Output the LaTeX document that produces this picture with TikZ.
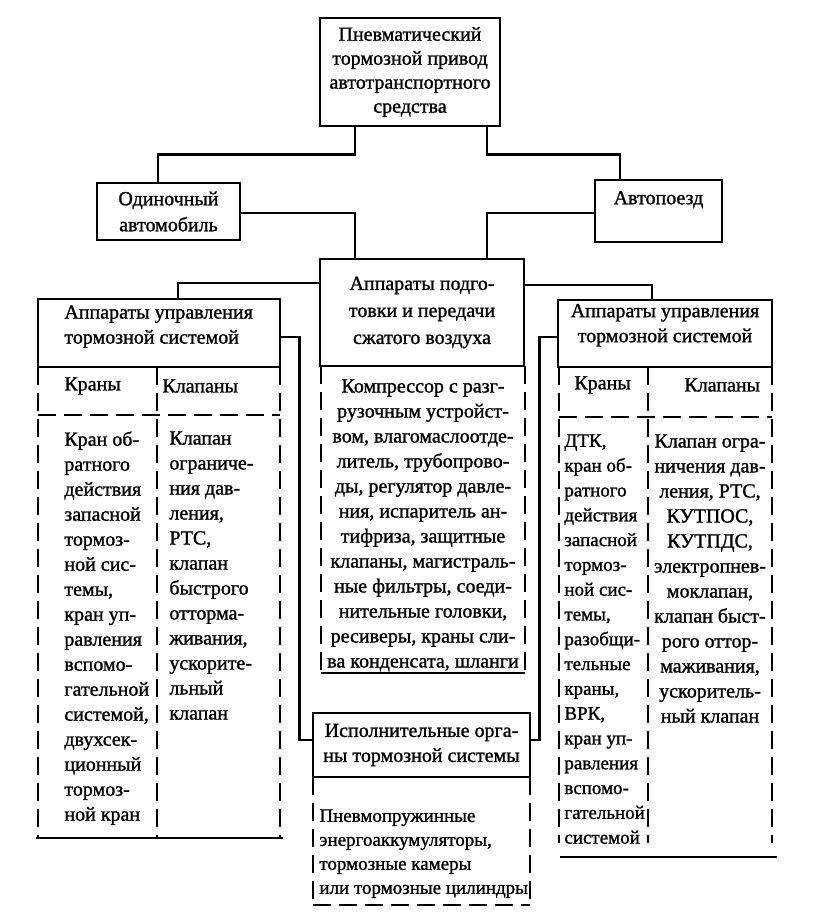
\documentclass[tikz,border=0pt]{standalone}
\usepackage{fontspec}
\setmainfont{Liberation Serif}[BoldFont={Liberation Serif}, BoldFeatures={FakeBold=1.2}]

\begin{document}
\begin{tikzpicture}[x=1pt, y=-1pt, line width=2.8pt,
    box/.style={draw, inner sep=0pt, font=\fontsize{20}{25}\selectfont\bfseries},
    txt/.style={inner sep=0pt, font=\fontsize{20}{25}\selectfont\bfseries},
    cut/.style={dash pattern=on 18pt off 8pt}]
    \useasboundingbox (0,0) rectangle (816,913);

    % Top box
    \node[box, align=center, minimum width=180pt, minimum height=108pt, font=\fontsize{20}{24}\selectfont\bfseries] (drive) at (410,72)
    {Пневматический\\тормозной привод\\автотранспортного\\средства};

    % Vehicle type
    \node[box, align=center, minimum width=143pt, minimum height=57pt, font=\fontsize{20}{26}\selectfont\bfseries] (single) at (168.5,211.5) {Одиночный\\ автомобиль};
    \node[box, minimum width=127pt, minimum height=62pt] (train) at (658.5,211) {};
    \node[txt] (traintxt) at ([yshift=-21pt]train.north) {Автопоезд};

    % Air preparation
    \node[box, align=center, minimum width=204pt, minimum height=107pt, font=\fontsize{20}{27}\selectfont\bfseries] (prep) at (422,312.5)
    {Аппараты подго-\\товки и передачи\\сжатого воздуха};

    % Control apparatus, left and right
    \node[box, minimum width=242pt, minimum height=68pt] (ctrlL) at (159,333) {};
    \node[txt, align=left, anchor=north west] (ctrlLtxt) at (63,304) {Аппараты управления\\тормозной системой};
    \node[box, minimum width=214pt, minimum height=67pt] (ctrlR) at (665,333.5) {};
    \node[txt, align=center, anchor=north] (ctrlRtxt) at ([yshift=-4pt]ctrlR.north) {Аппараты управления\\тормозной системой};

    % Actuators
    \node[box, align=center, minimum width=217pt, minimum height=64pt] (exec) at (421.5,745)
    {Исполнительные орга-\\ны тормозной системы};

    % Connections
    \draw ([xshift=-55pt]drive.south) -- ++(0,27) -| ([xshift=-10.5pt]single.north);
    \draw ([xshift=77pt]drive.south) -- ++(0,27) -| ([xshift=-38.5pt]train.north);
    \draw ([yshift=-1.5pt]single.east) -| ([xshift=-67pt]prep.north);
    \draw ([yshift=-2pt]train.west) -| ([xshift=65pt]prep.north);
    \draw ([yshift=29.5pt]prep.west) -| ([xshift=19pt]ctrlL.north);
    \draw ([yshift=27.5pt]prep.east) -| ([xshift=-13pt]ctrlR.north);
    \draw ([yshift=-4pt]ctrlL.east) -- ++(18,0) |- ([yshift=5pt]exec.west);
    \draw ([yshift=-3.5pt]ctrlR.west) -- ++(-17,0) |- ([yshift=5pt]exec.east);

    % Left table
    \draw[cut] (38,367) -- (38,838);
    \draw[cut] (280,367) -- (280,838);
    \draw[cut] (157,367) -- (157,838);
    \draw[cut] (38,415) -- (280,415);
    \draw (36,838) -- (283,838);
    \node[txt, anchor=west] (cranesL) at (63,386) {Краны};
    \node[txt, anchor=west] (valvesL) at (161,386) {Клапаны};
    \node[txt, align=left, anchor=north west] (cranesLtxt) at (63,430)
    {Кран об-\\ратного\\действия\\запасной\\тормоз-\\ной сис-\\темы,\\кран уп-\\равления\\вспомо-\\гательной\\системой,\\двухсек-\\ционный\\тормоз-\\ной кран};
    \node[txt, align=left, anchor=north west] (valvesLtxt) at (168,430)
    {Клапан\\ограниче-\\ния дав-\\ления,\\РТС,\\клапан\\быстрого\\отторма-\\живания,\\ускорите-\\льный\\клапан};

    % Middle list
    \draw[cut] (321,366) -- (321,673);
    \draw[cut] (525,366) -- (525,673);
    \draw (321,673) -- (525,673);
    \node[txt, align=center, anchor=north] (preptxt) at (423,378)
    {Компрессор с разг-\\рузочным устройст-\\вом, влагомаслоотде-\\литель, трубопрово-\\ды, регулятор давле-\\ния, испаритель ан-\\тифриза, защитные\\клапаны, магистраль-\\ные фильтры, соеди-\\нительные головки,\\ресиверы, краны сли-\\ва конденсата, шланги};

    % Right table
    \draw[cut] (559,367) -- (559,843);
    \draw[cut] (772,367) -- (772,843);
    \draw[cut] (648,367) -- (648,843);
    \draw[cut] (559,417) -- (772,417);
    \draw (560,857) -- (777,857);
    \node[txt, anchor=west] (cranesR) at (573,385) {Краны};
    \node[txt, anchor=west] (valvesR) at (683,385) {Клапаны};
    \node[txt, align=left, anchor=north west, font=\fontsize{19}{24.8}\selectfont\bfseries] (cranesRtxt) at (563,433)
    {ДТК,\\кран об-\\ратного\\действия\\запасной\\тормоз-\\ной сис-\\темы,\\разобщи-\\тельные\\краны,\\ВРК,\\кран уп-\\равления\\вспомо-\\гательной\\системой};
    \node[txt, align=center, anchor=north] (valvesRtxt) at (710,433)
    {Клапан огра-\\ничения дав-\\ления, РТС,\\КУТПОС,\\КУТПДС,\\электропнев-\\моклапан,\\клапан быст-\\рого оттор-\\маживания,\\ускоритель-\\ный клапан};

    % Actuator list
    \draw[cut] (313,777) -- (313,905);
    \draw[cut] (530,777) -- (530,905);
    \draw[cut] (313,905) -- (530,905);
    \node[txt, align=left, anchor=north west, font=\fontsize{19}{24}\selectfont\bfseries] (exectxt) at (318,808)
    {Пневмопружинные\\энергоаккумуляторы,\\тормозные камеры\\или тормозные цилиндры};

\end{tikzpicture}
\end{document}
